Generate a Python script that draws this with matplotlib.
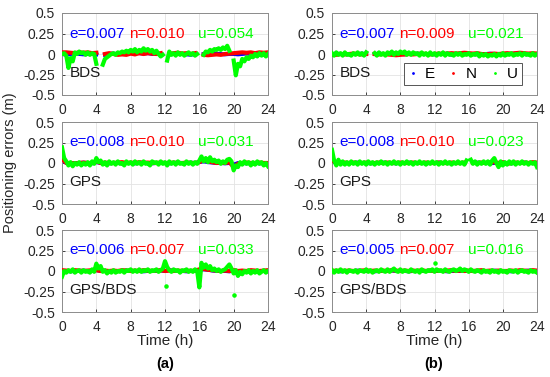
import numpy as np
import matplotlib
matplotlib.use("Agg")
import matplotlib.pyplot as plt
from matplotlib.lines import Line2D

plt.rcParams['font.family'] = ['Liberation Sans', 'DejaVu Sans']

nan = np.nan

# time axes (hours)
t_u = np.arange(0, 24.01, 0.25)
t_en = np.arange(0, 24.01, 0.5)

# ---- (a) BDS ----
a_bds_u = [0.00, 0.01, -0.02, -0.17, -0.05, -0.09, 0.02, 0.00, 0.03, 0.01, 0.02, -0.01,
           0.02, -0.01, 0.01, 0.00, -0.12, nan, nan, -0.13, -0.06, -0.04, -0.02, 0.00,
           0.01, -0.01, 0.02, 0.01, 0.03, 0.02, 0.04, 0.02, 0.05, 0.03, 0.06, 0.02,
           0.05, 0.03, 0.07, 0.04, 0.06, 0.03, 0.05, 0.01, 0.04, 0.00, -0.03, -0.01,
           nan, -0.08, 0.03, -0.01, 0.01, -0.02, 0.02, -0.01, 0.01, -0.02, 0.00, 0.02,
           -0.01, 0.01, -0.02, 0.00, nan, nan, -0.01, 0.03, 0.02, 0.05, 0.03, 0.06,
           0.05, 0.07, 0.05, 0.08, 0.06, 0.10, 0.04, nan, -0.08, -0.26, -0.12, -0.15,
           -0.06, -0.09, -0.04, -0.06, -0.02, -0.04, 0.00, -0.03, 0.01, -0.02, 0.01, -0.03,
           0.00]
a_bds_n = [0.02, 0.02, 0.015, 0.01, 0.02, 0.015, 0.02, 0.01, 0.015, nan, 0.0, 0.01,
           0.0, -0.01, -0.005, -0.01, 0.005, -0.005, 0.01, 0.0, 0.01, 0.005, 0.0, 0.01,
           nan, 0.0, 0.01, 0.015, 0.005, 0.01, 0.0, 0.01, nan, -0.01, -0.015, -0.01,
           -0.005, -0.01, 0.0, 0.005, 0.01, 0.015, 0.02, 0.015, 0.02, 0.01, 0.02, 0.015,
           0.02]
a_bds_e = [0.0, -0.01, 0.0, 0.005, 0.0, -0.005, 0.0, 0.005, -0.005, nan, -0.01, 0.0,
           0.005, 0.0, 0.01, 0.005, 0.01, 0.015, 0.01, 0.005, 0.01, 0.0, 0.005, 0.0,
           nan, -0.005, 0.0, 0.005, 0.0, -0.005, -0.01, 0.0, nan, 0.0, 0.005, 0.0,
           0.005, 0.0, -0.005, 0.0, 0.0, -0.005, 0.0, 0.005, 0.0, -0.005, 0.0, 0.005,
           0.0]

# ---- (a) GPS ----
a_gps_u = [0.19, 0.06, 0.02, -0.03, 0.01, -0.04, 0.00, -0.02, 0.01, -0.03, 0.00, -0.02,
           0.01, -0.03, 0.02, -0.01, 0.06, 0.01, 0.03, -0.02, 0.01, -0.03, 0.02, -0.01,
           0.01, -0.02, 0.02, -0.01, 0.00, -0.03, 0.02, -0.01, 0.01, -0.02, 0.02, -0.01,
           0.01, -0.02, 0.02, -0.01, 0.00, -0.03, 0.02, 0.00, 0.01, -0.02, 0.02, -0.01,
           0.01, -0.03, 0.02, -0.01, 0.01, -0.02, 0.02, -0.01, 0.00, -0.02, 0.02, -0.01,
           0.01, -0.02, 0.01, -0.01, 0.03, 0.08, 0.02, 0.06, 0.01, 0.07, 0.02, 0.04,
           0.01, 0.03, -0.01, 0.02, 0.00, 0.04, 0.05, 0.02, -0.09, -0.03, -0.05, 0.01,
           -0.02, 0.02, -0.01, 0.01, -0.03, 0.01, -0.02, 0.02, -0.01, 0.01, -0.03, 0.00,
           -0.04]
a_gps_n = [0.05, 0.0, 0.0, -0.005, 0.0, 0.005, 0.0, 0.0, 0.02, 0.0, 0.005, 0.0,
           0.0, 0.005, 0.01, 0.0, 0.005, 0.0, 0.01, 0.0, 0.005, 0.0, 0.0, 0.005,
           0.0, 0.0, 0.005, 0.0, 0.0, 0.005, 0.0, 0.0, 0.01, 0.04, 0.02, 0.01,
           0.0, 0.005, 0.0, 0.01, -0.05, -0.01, 0.0, 0.005, 0.0, 0.0, 0.005, 0.0,
           0.0]
a_gps_e = [0.03, 0.0, -0.005, 0.0, 0.0, 0.005, 0.0, -0.005, 0.01, 0.0, 0.0, -0.005,
           0.0, 0.0, -0.005, 0.0, 0.0, -0.005, 0.0, 0.005, 0.0, -0.005, 0.0, 0.0,
           0.0, -0.005, 0.0, 0.005, 0.0, 0.0, 0.005, 0.0, 0.01, 0.02, 0.01, 0.005,
           0.0, 0.0, -0.005, 0.0, -0.02, 0.0, 0.0, -0.005, 0.0, 0.0, -0.005, 0.0,
           0.0]

# ---- (a) GPS/BDS ----
a_gb_u = [-0.07, 0.00, -0.02, 0.01, -0.01, 0.02, -0.02, 0.00, 0.01, -0.02, 0.01, -0.01,
          0.00, -0.02, 0.02, -0.01, 0.09, 0.03, 0.06, -0.01, 0.01, -0.03, 0.00, -0.02,
          0.01, -0.02, 0.00, -0.01, 0.01, -0.02, 0.01, 0.00, 0.02, -0.01, 0.01, -0.01,
          0.02, -0.01, 0.01, 0.00, 0.02, -0.01, 0.01, 0.00, 0.02, -0.01, 0.01, 0.03,
          0.12, 0.05, 0.01, -0.01, 0.02, 0.00, 0.01, -0.02, 0.01, 0.00, 0.02, -0.01,
          0.01, -0.01, 0.02, 0.00, -0.20, 0.10, 0.04, 0.08, 0.03, 0.06, 0.01, 0.03,
          0.00, 0.02, -0.01, 0.01, 0.02, 0.05, 0.08, 0.03, -0.03, 0.01, -0.06, -0.01,
          -0.04, 0.00, -0.02, 0.01, -0.03, 0.00, -0.02, 0.01, -0.03, -0.01, 0.01, -0.02,
          0.00]
a_gb_n = [0.01, 0.005, 0.0, 0.01, 0.005, 0.0, 0.005, 0.01, 0.01, 0.0, 0.005, 0.0,
          0.005, 0.0, 0.01, 0.005, 0.0, 0.005, 0.0, 0.01, 0.005, 0.0, 0.005, 0.01,
          0.0, 0.005, 0.0, 0.005, 0.0, 0.005, 0.0, 0.005, 0.02, 0.025, 0.015, 0.01,
          0.005, 0.0, 0.005, 0.0, 0.01, 0.0, 0.005, 0.0, 0.01, 0.005, 0.0, 0.005,
          0.01]
a_gb_e = [0.0, 0.0, -0.005, 0.0, 0.0, 0.005, 0.0, 0.0, 0.01, 0.0, 0.0, -0.005,
          0.0, 0.0, 0.0, 0.005, 0.0, 0.0, 0.0, -0.005, 0.0, 0.0, 0.0, 0.005,
          0.0, 0.01, 0.005, 0.0, 0.0, -0.005, 0.0, 0.0, 0.01, 0.02, 0.015, 0.005,
          0.0, 0.0, 0.0, -0.005, 0.005, 0.0, 0.0, 0.0, -0.005, 0.0, 0.0, 0.0,
          0.0]
a_gb_out_t = [12.1, 20.05]
a_gb_out_u = [-0.18, -0.29]

# ---- (b) BDS ----
b_bds_u = [0.01, -0.02, 0.02, -0.01, 0.01, -0.02, 0.02, -0.01, 0.00, -0.02, 0.01, -0.01,
           0.02, -0.01, 0.01, -0.02, 0.02, nan, nan, nan, 0.01, -0.02, 0.02, -0.01,
           0.01, -0.02, 0.02, 0.00, 0.03, -0.01, 0.02, 0.00, 0.03, 0.01, 0.03, -0.01,
           0.02, -0.01, 0.02, 0.00, 0.01, -0.02, 0.02, -0.01, 0.01, -0.02, 0.02, -0.01,
           0.01, -0.02, 0.01, -0.01, 0.02, -0.02, 0.01, -0.01, 0.00, -0.02, 0.01, -0.01,
           0.01, -0.02, 0.00, -0.01, 0.01, -0.02, 0.00, -0.01, 0.01, -0.03, 0.00, -0.02,
           0.00, -0.03, -0.01, -0.02, 0.00, -0.03, 0.00, -0.02, 0.01, -0.02, 0.00, -0.01,
           0.01, -0.02, 0.00, -0.01, 0.01, -0.02, 0.01, -0.01, 0.00, -0.02, 0.01, -0.02,
           0.00]
b_bds_n = [-0.01, -0.01, 0.0, -0.005, 0.0, 0.005, 0.0, -0.005, 0.0, nan, 0.0, -0.005,
           0.0, -0.005, -0.01, -0.015, -0.01, -0.005, 0.0, -0.005, 0.0, 0.005, 0.0, -0.005,
           0.0, 0.005, 0.0, 0.005, 0.01, 0.005, 0.01, 0.015, 0.01, 0.005, 0.01, 0.0,
           -0.005, 0.0, 0.005, 0.0, 0.005, 0.01, 0.005, 0.01, 0.015, 0.01, 0.005, 0.01,
           0.005]
b_bds_e = [0.0, 0.005, 0.0, 0.0, -0.005, 0.0, 0.0, 0.005, 0.0, nan, 0.0, 0.005,
           0.0, 0.0, 0.005, 0.0, 0.0, -0.005, 0.0, 0.0, 0.005, 0.0, 0.0, 0.0,
           -0.005, 0.0, 0.0, 0.005, -0.01, 0.0, 0.0, 0.005, 0.0, 0.0, -0.005, 0.0,
           0.0, 0.005, 0.0, 0.0, -0.005, 0.0, 0.0, 0.005, 0.0, 0.0, -0.005, 0.0,
           0.0]

# ---- (b) GPS ----
b_gps_u = [0.16, 0.03, -0.03, 0.04, -0.02, 0.02, -0.02, 0.01, -0.02, 0.02, -0.01, 0.01,
           -0.02, 0.02, -0.01, 0.01, -0.02, 0.02, -0.01, 0.01, -0.02, 0.01, -0.01, 0.02,
           -0.01, 0.01, -0.02, 0.01, -0.01, 0.02, -0.01, 0.01, -0.02, 0.01, -0.01, 0.02,
           -0.01, 0.01, -0.02, 0.01, -0.01, 0.02, -0.01, 0.01, -0.02, 0.01, -0.01, 0.02,
           -0.01, 0.01, -0.02, 0.01, -0.01, 0.02, -0.01, 0.01, -0.02, 0.01, -0.01, 0.02,
           -0.01, 0.01, -0.02, 0.03, nan, 0.04, -0.01, 0.02, -0.02, 0.01, -0.01, 0.02,
           -0.01, 0.02, -0.02, 0.03, 0.06, 0.00, -0.05, 0.02, -0.03, 0.01, -0.02, 0.02,
           -0.01, 0.02, -0.02, 0.01, -0.01, 0.02, -0.01, 0.01, -0.02, 0.01, -0.01, 0.01,
           -0.05]
b_gps_n = [0.03, 0.005, 0.0, 0.005, 0.0, 0.005, 0.0, 0.0, 0.005, 0.0, 0.0, 0.005,
           0.0, 0.005, 0.0, 0.0, 0.005, 0.0, 0.0, 0.005, 0.0, 0.0, 0.005, 0.0,
           0.0, 0.005, 0.0, 0.0, 0.005, 0.0, 0.0, 0.005, nan, 0.005, 0.0, 0.005,
           0.0, 0.005, 0.01, 0.0, 0.01, -0.01, 0.0, 0.005, 0.0, 0.005, 0.0, 0.01,
           0.005]
b_gps_e = [0.02, 0.0, 0.0, -0.005, 0.0, 0.0, 0.005, 0.0, 0.0, -0.005, 0.0, 0.0,
           0.005, 0.0, 0.0, -0.005, 0.0, 0.0, 0.005, 0.0, 0.0, 0.0, -0.005, 0.0,
           0.0, 0.005, 0.0, 0.0, -0.005, 0.0, 0.0, 0.0, nan, 0.0, 0.005, 0.0,
           0.0, -0.005, 0.0, 0.0, 0.005, 0.0, -0.005, 0.0, 0.0, 0.005, 0.0, 0.0,
           0.0]

# ---- (b) GPS/BDS ----
b_gb_u = [0.01, -0.02, 0.01, -0.01, 0.02, -0.01, 0.01, -0.02, 0.01, 0.00, -0.01, 0.01,
          -0.02, 0.01, 0.00, -0.01, 0.02, -0.01, 0.01, -0.02, 0.00, 0.01, -0.01, 0.02,
          0.00, -0.01, 0.02, -0.01, 0.01, 0.03, 0.00, -0.01, 0.02, -0.01, 0.01, 0.00,
          -0.01, 0.02, 0.00, -0.01, 0.01, -0.02, 0.02, 0.00, -0.01, 0.01, 0.00, 0.02,
          -0.01, 0.02, 0.00, 0.01, -0.01, 0.02, 0.00, -0.01, 0.01, 0.02, 0.00, 0.01,
          0.03, 0.00, 0.02, 0.01, -0.01, 0.02, 0.00, -0.01, 0.01, 0.00, -0.02, 0.01,
          -0.01, 0.00, -0.02, 0.01, -0.01, 0.00, -0.02, 0.01, -0.01, 0.00, -0.02, 0.01,
          0.00, -0.01, 0.01, -0.02, 0.00, 0.01, -0.01, 0.00, -0.02, 0.01, -0.01, 0.00,
          -0.02]
b_gb_n = [0.005, 0.0, 0.005, 0.0, 0.005, 0.0, 0.0, 0.005, 0.01, 0.0, 0.005, 0.0,
          0.005, 0.0, 0.01, 0.005, 0.0, 0.005, 0.0, 0.005, 0.0, 0.01, 0.0, 0.005,
          0.0, 0.005, 0.0, 0.005, 0.01, 0.0, 0.005, 0.0, 0.005, 0.0, 0.005, 0.01,
          0.0, 0.005, 0.0, 0.005, 0.0, 0.0, 0.005, 0.0, 0.01, 0.005, 0.0, 0.01,
          0.005]
b_gb_e = [0.0, 0.0, -0.005, 0.0, 0.0, 0.0, 0.005, 0.0, 0.0, 0.0, -0.005, 0.0,
          0.0, 0.0, 0.005, 0.0, 0.0, 0.0, -0.005, 0.0, 0.0, 0.0, 0.0, 0.005,
          0.0, 0.0, 0.0, -0.005, 0.0, 0.0, 0.0, 0.005, 0.0, 0.0, 0.0, -0.005,
          0.0, 0.0, 0.005, 0.0, 0.0, 0.0, -0.005, 0.0, 0.0, 0.0, 0.005, 0.0,
          0.0]
b_gb_out_t = [12.1]
b_gb_out_u = [0.10]

rms_a = [(0.007, 0.010, 0.054), (0.008, 0.010, 0.031), (0.006, 0.007, 0.033)]
rms_b = [(0.007, 0.009, 0.021), (0.008, 0.010, 0.023), (0.005, 0.007, 0.016)]
systems = ['BDS', 'GPS', 'GPS/BDS']

col_e, col_n, col_u = '#0000FF', '#FF0000', '#00FF00'

panels_a = [(a_bds_e, a_bds_n, a_bds_u, [], []),
            (a_gps_e, a_gps_n, a_gps_u, [], []),
            (a_gb_e, a_gb_n, a_gb_u, a_gb_out_t, a_gb_out_u)]
panels_b = [(b_bds_e, b_bds_n, b_bds_u, [], []),
            (b_gps_e, b_gps_n, b_gps_u, [], []),
            (b_gb_e, b_gb_n, b_gb_u, b_gb_out_t, b_gb_out_u)]

W, H = 550, 377
fig = plt.figure(figsize=(5.5, 3.77), dpi=100)

lefts = [62, 332]
widths = [206, 205]
tops = [13, 122, 230]
ax_h = 82

axes = {}
for col, (panels, rms) in enumerate([(panels_a, rms_a), (panels_b, rms_b)]):
    for row in range(3):
        x0 = lefts[col] / W
        y0 = 1 - (tops[row] + ax_h) / H
        ax = fig.add_axes([x0, y0, widths[col] / W, ax_h / H])
        e, n, u, ot, ou = panels[row]
        ax.plot(t_en, e, color=col_e, lw=2.8, zorder=2)
        ax.plot(t_en, n, color=col_n, lw=3.0, zorder=3)
        ax.plot(t_u, u, color=col_u, lw=3.0, zorder=4)
        if ot:
            ax.plot(ot, ou, '.', color=col_u, ms=4.5, zorder=4)

        ax.set_xlim(0, 24)
        ax.set_ylim(-0.5, 0.5)
        ax.set_xticks(range(0, 25, 4))
        ax.set_yticks([-0.5, -0.25, 0, 0.25, 0.5])
        ax.set_yticklabels(['-0.5', '-0.25', '0', '0.25', '0.5'])
        ax.grid(True, color='#e3e3e3', lw=0.6)
        ax.set_axisbelow(True)
        ax.tick_params(direction='in', length=2.5, width=0.6, labelsize=10,
                       colors='#262626')
        ax.tick_params(axis='x', pad=6)
        ax.tick_params(axis='y', pad=5)
        for s in ax.spines.values():
            s.set_color('#8c8c8c')
            s.set_linewidth(0.7)

        re, rn, ru = rms[row]
        ax.text(0.9, 0.25, f'e={re:.3f}', color=col_e, fontsize=11, va='center')
        ax.text(7.8, 0.25, f'n={rn:.3f}', color=col_n, fontsize=11, va='center')
        ax.text(15.9, 0.25, f'u={ru:.3f}', color=col_u, fontsize=11, va='center')
        ax.text(0.9, -0.23, systems[row], color='#1a1a1a', fontsize=11, va='center')
        axes[(col, row)] = ax
        if row == 2:
            ax.set_xlabel('Time (h)', fontsize=11, color='#262626', labelpad=0)

# legend in right top panel
handles = [Line2D([], [], ls='none', marker='.', ms=2, color=c) for c in (col_e, col_n, col_u)]
leg = axes[(1, 0)].legend(handles, ['E', 'N', 'U'], ncol=3, loc='lower right',
                          bbox_to_anchor=(0.927, 0.122), borderaxespad=0,
                          fontsize=11, frameon=True,
                          fancybox=False, edgecolor='#555555', framealpha=1,
                          handlelength=0.6, handletextpad=0.5, columnspacing=0.9,
                          borderpad=0.25)
leg.get_frame().set_linewidth(0.7)

fig.text(10 / W, 1 - 163 / H, 'Positioning errors (m)', rotation=90, fontsize=10.5,
         color='#262626', ha='center', va='center')
fig.text(165 / W, 1 - 364 / H, '(a)', fontsize=10.5, fontweight='bold', ha='center', va='center')
fig.text(434 / W, 1 - 364 / H, '(b)', fontsize=10.5, fontweight='bold', ha='center', va='center')

fig.savefig('out.png', dpi=100)
